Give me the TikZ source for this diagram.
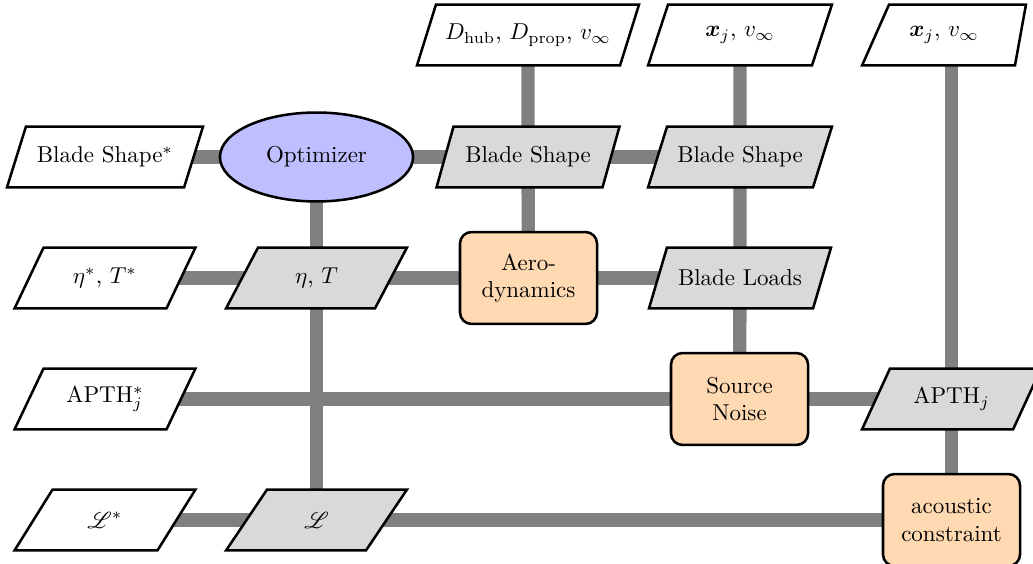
\documentclass[tikz,border=0pt]{standalone}
\usepackage{amsmath,bm,mathrsfs}
\usetikzlibrary{calc,shapes.geometric}
\pgfdeclarelayer{bg}
\pgfdeclarelayer{shp}
\pgfsetlayers{bg,shp,main}
\tikzset{
  conn/.style={draw=black!50, line width=5.8pt},
  dtext/.style={rectangle, inner sep=0pt, outer sep=0pt, minimum height=26.5pt, align=center},
  dinput/.style={fill=white, draw=black, line width=1.1pt, line join=miter},
  dint/.style={fill=black!15, draw=black, line width=1.1pt, line join=miter},
  funcbox/.style={rectangle, rounded corners=5pt, draw=black, line width=1.1pt, fill=orange!30,
    minimum width=59.6pt, minimum height=40pt, align=center, inner sep=2pt},
  optbox/.style={ellipse, draw=black, line width=1.1pt, fill=blue!25,
    minimum width=84pt, minimum height=38.7pt, inner sep=0pt}
}
\newcommand\dpara[4]{%
  \draw[#4] (#1.south west) -- ($(#1.north west)+(#2,0)$) -- (#1.north east)
    -- ($(#1.south east)-(#3,0)$) -- cycle;}
\begin{document}
\begin{tikzpicture}[x=0.435pt,y=-0.435pt]
\useasboundingbox (0,0) rectangle (1033,564);
\clip (0,0) rectangle (1033,564);
% top inputs
\node[dtext,minimum width=96.6pt] (in1) at (528,35) {$D_{\mathrm{hub}}$, $D_{\mathrm{prop}}$, $v_\infty$};
\node[dtext,minimum width=80pt] (in2) at (740,35) {$\bm{x}_j$, $v_\infty$};
\node[dtext,minimum width=71.3pt] (in3) at (944,35) {$\bm{x}_j$, $v_\infty$};
% row 1
\node[dtext,minimum width=85.3pt] (bss) at (105,157) {Blade Shape$^*$};
\node[optbox] (opt) at (316.5,157) {Optimizer};
\node[dtext,minimum width=79.6pt] (bs3) at (528,157) {Blade Shape};
\node[dtext,minimum width=80pt] (bs4) at (740,157) {Blade Shape};
% row 2
\node[dtext,minimum width=78.7pt] (ets) at (105,278) {$\eta^*$, $T^*$};
\node[dtext,minimum width=78.7pt] (et) at (316.5,278) {$\eta$, $T$};
\node[funcbox] (aero) at (528.5,278) {Aero-\\dynamics};
\node[dtext,minimum width=79.2pt] (bl) at (740,278) {Blade Loads};
% row 3
\node[dtext,minimum width=78.7pt] (apths) at (105,399) {APTH$^*_j$};
\node[funcbox] (sn) at (739.5,399) {Source\\Noise};
\node[dtext,minimum width=77.9pt] (apth) at (951.5,399) {APTH$_j$};
% row 4
\node[dtext,minimum width=78.7pt] (ls) at (105,520) {$\mathscr{L}^*$};
\node[dtext,minimum width=78.7pt] (l) at (316.5,520) {$\mathscr{L}$};
\node[funcbox] (ac) at (951.5,520) {acoustic\\constraint};
% parallelogram shapes
\begin{pgfonlayer}{shp}
  \dpara{in1}{19}{19}{dinput}
  \dpara{in2}{20}{20}{dinput}
  \dpara{in3}{27}{11}{dinput}
  \dpara{bss}{19}{19}{dinput}
  \dpara{bs3}{17}{17}{dint}
  \dpara{bs4}{19}{19}{dint}
  \dpara{ets}{29}{29}{dinput}
  \dpara{et}{32}{32}{dint}
  \dpara{bl}{18}{18}{dint}
  \dpara{apths}{29}{29}{dinput}
  \dpara{apth}{28}{28}{dint}
  \dpara{ls}{38}{38}{dinput}
  \dpara{l}{41}{41}{dint}
\end{pgfonlayer}
% connectors
\begin{pgfonlayer}{bg}
  \draw[conn] (bss.center) -- (opt.center) -- (bs3.center) -- (bs4.center);
  \draw[conn] (in1.center) -- (bs3.center) -- (aero.center);
  \draw[conn] (in2.center) -- (bs4.center) -- (bl.center) -- (sn.center);
  \draw[conn] (opt.center) -- (et.center) -- (l.center);
  \draw[conn] (ets.center) -- (et.center) -- (aero.center) -- (bl.center);
  \draw[conn] (apths.center) -- (sn.center) -- (apth.center);
  \draw[conn] (apth.center |- in3.center) -- (apth.center) -- (ac.center);
  \draw[conn] (ls.center) -- (l.center) -- (ac.center);
\end{pgfonlayer}
\end{tikzpicture}
\end{document}
